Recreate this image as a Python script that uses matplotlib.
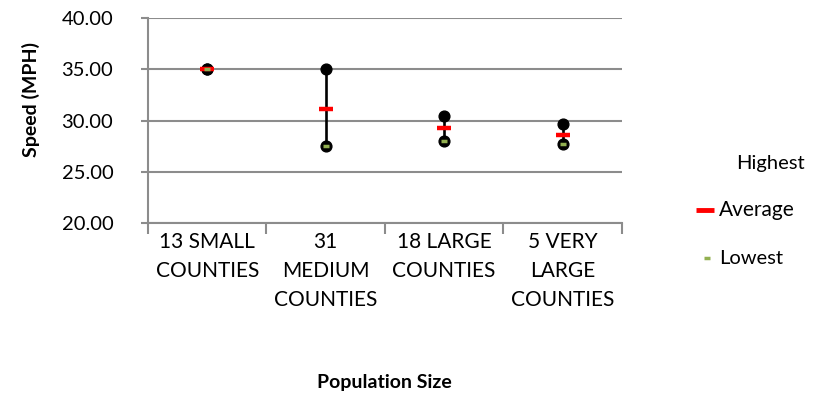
import matplotlib.pyplot as plt
from matplotlib.lines import Line2D
import numpy as np

# speed by population size
categories = ["13 SMALL\nCOUNTIES", "31\nMEDIUM\nCOUNTIES", "18 LARGE\nCOUNTIES", "5 VERY\nLARGE\nCOUNTIES"]
highest = [35.0, 35.0, 30.5, 29.7]
average = [35.0, 31.1, 29.3, 28.6]
lowest = [35.0, 27.5, 28.0, 27.7]
legend_labels = ["Highest", "Average", "Lowest"]

plt.rcParams['font.family'] = ['Lato', 'DejaVu Sans']

fig = plt.figure(figsize=(8.24, 4.01), dpi=100)
ax = fig.add_axes([0.1796, 0.443, 0.575, 0.512])

x = np.arange(len(categories))
grid_col = '#8c8c8c'
red = '#ff0000'
green = '#92b050'

# high-low lines
ax.vlines(x, lowest, highest, color='black', lw=1.9, zorder=3)
ax.scatter(x, highest, s=60, color='black', zorder=4)
ax.scatter(x, lowest, s=60, color='black', zorder=4)
ax.scatter(x, average, marker='_', s=115, color=red, linewidths=3.2, zorder=5)
ax.scatter(x, lowest, marker='_', s=16, color=green, linewidths=2.5, zorder=6)

ax.set_ylim(20, 40)
ax.set_yticks([20, 25, 30, 35, 40])
ax.set_yticklabels([f"{v:.2f}" for v in [20, 25, 30, 35, 40]])
ax.set_xlim(-0.5, len(categories) - 0.5)
ax.set_xticks(np.arange(-0.5, len(categories)))
ax.set_xticklabels([])
ax.set_xticks(x, minor=True)
ax.set_xticklabels(categories, minor=True)
ax.tick_params(axis='x', which='major', length=8, color=grid_col, width=1.5)
ax.tick_params(axis='x', which='minor', length=0, pad=6, labelsize=15)
ax.tick_params(axis='y', length=5, color=grid_col, width=1.5, labelsize=14.5, pad=20)
for t in ax.get_xticklabels(minor=True):
    t.set_linespacing(1.58)

ax.yaxis.grid(True, color=grid_col, lw=1.5)
ax.set_axisbelow(True)
for s in ['top', 'right']:
    ax.spines[s].set_visible(False)
for s in ['left', 'bottom']:
    ax.spines[s].set_color(grid_col)
    ax.spines[s].set_linewidth(1.5)

fig.text(0.037, 0.752, "Speed (MPH)", rotation=90, ha='center', va='center',
         fontsize=14, fontweight='bold')
fig.text(0.467, 0.045, "Population Size", ha='center', va='center',
         fontsize=14, fontweight='bold')

# legend drawn by hand (Highest has no visible key)
fig.text(0.893, 1 - 163 / 401, legend_labels[0], ha='left', va='center', fontsize=14.5)
fig.text(0.873, 1 - 210 / 401, legend_labels[1], ha='left', va='center', fontsize=15)
fig.text(0.873, 1 - 258 / 401, legend_labels[2], ha='left', va='center', fontsize=14.5)
fig.add_artist(Line2D([0.856], [1 - 210 / 401], marker='_', markersize=13,
                      markeredgewidth=3.5, color=red, transform=fig.transFigure))
fig.add_artist(Line2D([0.858], [1 - 258 / 401], marker='_', markersize=4.5,
                      markeredgewidth=2.5, color=green, transform=fig.transFigure))

fig.savefig("out.png", dpi=100)
